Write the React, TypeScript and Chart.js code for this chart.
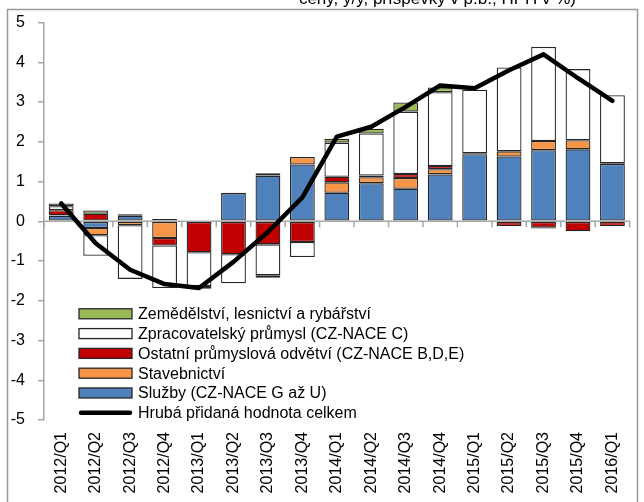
import React, { useEffect, useRef } from 'react';
import { Chart, registerables } from 'chart.js';

Chart.register(...registerables);

const categories = [
  '2012/Q1', '2012/Q2', '2012/Q3', '2012/Q4',
  '2013/Q1', '2013/Q2', '2013/Q3', '2013/Q4',
  '2014/Q1', '2014/Q2', '2014/Q3', '2014/Q4',
  '2015/Q1', '2015/Q2', '2015/Q3', '2015/Q4',
  '2016/Q1',
];

const sluzby = [0.14, -0.17, 0.14, 0, 0, 0.71, 1.15, 1.43, 0.72, 0.96, 0.82, 1.18, 1.69, 1.63, 1.79, 1.81, 1.44];
const stavebnictvi = [0.01, -0.18, -0.1, -0.42, 0, 0.01, 0.06, 0.19, 0.26, 0.15, 0.27, 0.13, 0.02, 0.13, 0.23, 0.23, 0.02];
const ostatni = [0.13, 0.19, 0.02, -0.19, -0.78, -0.83, -0.58, -0.52, 0.14, 0.04, 0.1, 0.08, 0, -0.12, -0.16, -0.25, -0.12];
const zpracovatelsky = [0.1, -0.52, -1.35, -1.07, -0.85, -0.73, -0.78, -0.38, 0.86, 1.06, 1.57, 1.86, 1.6, 2.11, 2.37, 1.79, 1.71];
const zemedelstvi = [0.07, 0.08, 0.02, 0.06, -0.07, 0, -0.06, 0, 0.1, 0.12, 0.23, 0.12, 0, 0, -0.02, 0, 0];
const hph = [0.45, -0.55, -1.22, -1.58, -1.68, -1.02, -0.27, 0.6, 2.13, 2.38, 2.88, 3.42, 3.35, 3.8, 4.2, 3.6, 3.03];

const yMin = -5;
const yMax = 5;
const yStep = 1;

const titleText = 'ceny, y/y, příspěvky v p.b., HPH v %)';

const labelZemedelstvi = 'Zemědělství, lesnictví a rybářství';
const labelZpracovatelsky = 'Zpracovatelský průmysl (CZ-NACE C)';
const labelOstatni = 'Ostatní průmyslová odvětví (CZ-NACE B,D,E)';
const labelStavebnictvi = 'Stavebnictví';
const labelSluzby = 'Služby (CZ-NACE G až U)';
const labelHph = 'Hrubá přidaná hodnota celkem';

const FONT = "'Liberation Sans', Arial, sans-serif";
const BORDER = '#262626';
const AXIS = '#a6a6a6';

const overlayPlugin = {
  id: 'overlay',
  afterDatasetDraw(chart: any, args: any) {
    if (args.index !== 1) return;
    const { ctx, chartArea, scales } = chart;
    const y0 = scales.y.getPixelForValue(0);
    const n = chart.data.labels.length;
    ctx.save();
    ctx.strokeStyle = AXIS;
    ctx.lineWidth = 1.5;
    ctx.beginPath();
    ctx.moveTo(chartArea.left, y0);
    ctx.lineTo(chartArea.right, y0);
    for (let i = 0; i <= n; i++) {
      const x = chartArea.left + ((chartArea.right - chartArea.left) * i) / n;
      ctx.moveTo(x, y0);
      ctx.lineTo(x, y0 + 6);
    }
    ctx.stroke();
    ctx.restore();
  },
  afterDraw(chart: any) {
    const { ctx, chartArea, scales } = chart;
    ctx.save();
    // outer frame
    ctx.strokeStyle = '#9a9a9a';
    ctx.lineWidth = 1.5;
    ctx.strokeRect(7.5, 9.5, 630, 600);
    // title (cut off at top)
    ctx.fillStyle = '#000';
    ctx.font = `17px ${FONT}`;
    ctx.textAlign = 'right';
    ctx.textBaseline = 'alphabetic';
    ctx.fillText(titleText, 576, 4);

    // legend
    const ds = chart.data.datasets;
    const order = [5, 4, 3, 2, 1, 0];
    const boxX = chartArea.left + 35;
    const boxW = 53;
    const boxH = 10;
    const textX = boxX + boxW + 6;
    let y = scales.y.getPixelForValue(-2) + 13;
    ctx.font = `16px ${FONT}`;
    ctx.textAlign = 'left';
    ctx.textBaseline = 'middle';
    for (const idx of order) {
      const d = ds[idx];
      if (d.type === 'line') {
        ctx.strokeStyle = '#000';
        ctx.lineWidth = 4.5;
        ctx.lineCap = 'round';
        ctx.beginPath();
        ctx.moveTo(boxX + 2, y);
        ctx.lineTo(boxX + boxW - 2, y);
        ctx.stroke();
      } else {
        ctx.fillStyle = d.backgroundColor;
        ctx.fillRect(boxX, y - boxH / 2, boxW, boxH);
        ctx.strokeStyle = BORDER;
        ctx.lineWidth = 1.3;
        ctx.strokeRect(boxX, y - boxH / 2, boxW, boxH);
      }
      ctx.fillStyle = '#000';
      ctx.fillText(d.label, textX, y + 1);
      y += 19.8;
    }
    ctx.restore();
  },
};

export default function App() {
  const ref = useRef<HTMLCanvasElement>(null);
  useEffect(() => {
    if (!ref.current) return;
    Chart.defaults.font.family = FONT;
    const barCommon = {
      type: 'bar' as const,
      stack: 'bars',
      borderColor: BORDER,
      borderWidth: 1.3,
      borderSkipped: false as const,
      categoryPercentage: 0.72,
      barPercentage: 1,
    };
    const chart = new Chart(ref.current, {
      type: 'bar',
      data: {
        labels: categories,
        datasets: [
          {
            type: 'line',
            label: labelHph,
            data: hph,
            stack: 'line',
            borderColor: '#000',
            backgroundColor: '#000',
            borderWidth: 4.5,
            pointRadius: 0,
            tension: 0,
            borderCapStyle: 'round',
            borderJoinStyle: 'round',
          } as any,
          { ...barCommon, label: labelSluzby, data: sluzby, backgroundColor: '#4F81BD' },
          { ...barCommon, label: labelStavebnictvi, data: stavebnictvi, backgroundColor: '#F79646' },
          { ...barCommon, label: labelOstatni, data: ostatni, backgroundColor: '#C00000' },
          { ...barCommon, label: labelZpracovatelsky, data: zpracovatelsky, backgroundColor: '#FFFFFF' },
          { ...barCommon, label: labelZemedelstvi, data: zemedelstvi, backgroundColor: '#9BBB59' },
        ],
      },
      options: {
        responsive: false,
        animation: false,
        devicePixelRatio: 1,
        layout: { padding: { left: 0, right: 12, top: 20, bottom: 0 } },
        plugins: {
          legend: { display: false },
          tooltip: { enabled: false },
          title: { display: false },
        },
        scales: {
          x: {
            stacked: true,
            offset: true,
            grid: { display: false, drawTicks: false },
            border: { display: false },
            ticks: {
              minRotation: 90,
              maxRotation: 90,
              autoSkip: false,
              padding: 12,
              color: '#000',
              font: { size: 16, family: FONT },
            },
            afterFit: (s: any) => {
              s.height = 82;
            },
          },
          y: {
            stacked: true,
            min: yMin,
            max: yMax,
            ticks: {
              stepSize: yStep,
              padding: 13,
              color: '#000',
              font: { size: 16, family: FONT },
            },
            grid: {
              drawOnChartArea: false,
              drawTicks: true,
              tickLength: 6,
              color: AXIS,
              lineWidth: 1.5,
            },
            border: { display: true, color: AXIS, width: 1.5 },
            afterFit: (s: any) => {
              s.width = 44;
            },
          },
        },
      },
      plugins: [overlayPlugin],
    });
    return () => chart.destroy();
  }, []);
  return (
    <div style={{ position: 'absolute', left: 0, top: 0, width: 644, height: 502, background: '#fff' }}>
      <canvas ref={ref} width={644} height={502} style={{ display: 'block' }} />
    </div>
  );
}
